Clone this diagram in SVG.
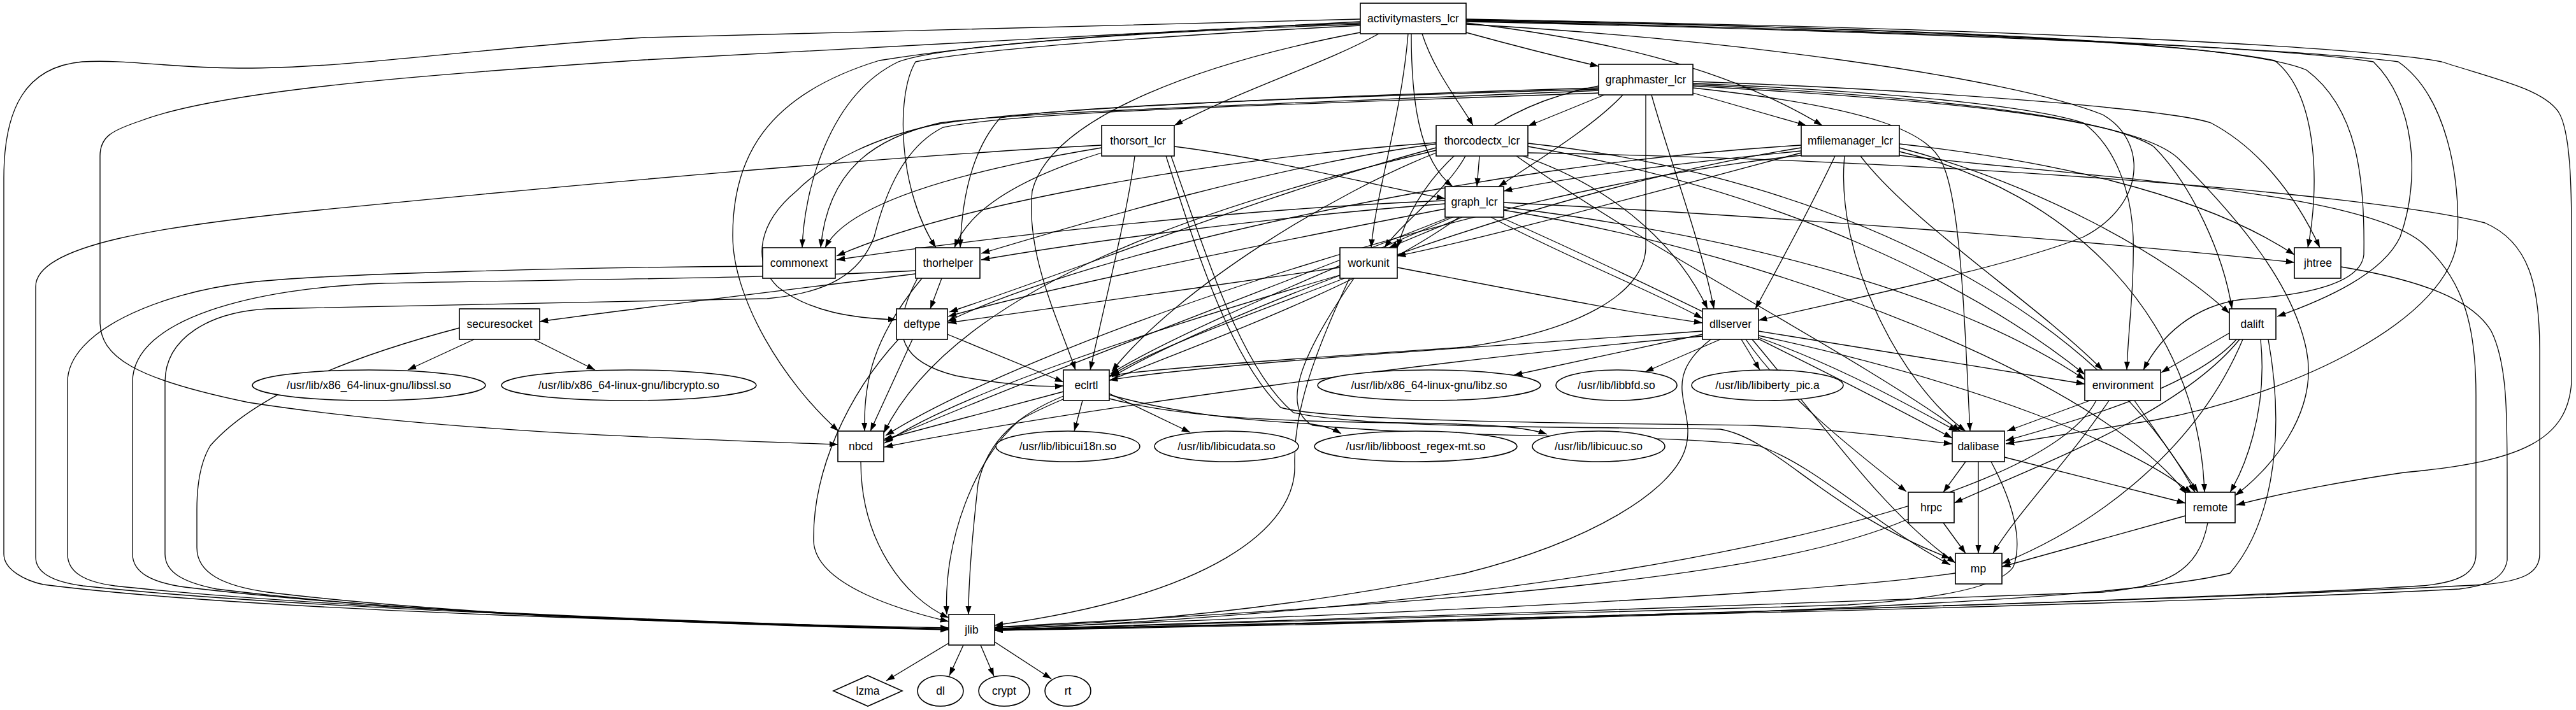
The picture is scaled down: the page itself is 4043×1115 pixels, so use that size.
<svg xmlns="http://www.w3.org/2000/svg" width="4043" height="1115" viewBox="0 0 4043 1115">
<style>
.n rect,.n ellipse,.n polygon{fill:#fff;stroke:#000;stroke-width:1.6}
text{font-family:"Liberation Sans",Arial,sans-serif;font-size:17.5px;text-anchor:middle;fill:#000}
.e path{fill:none;stroke:#000;stroke-width:1.3;marker-end:url(#a)}
</style>
<defs>
<marker id="a" markerUnits="userSpaceOnUse" markerWidth="14" markerHeight="10" refX="13.3" refY="4.65" orient="auto"><path d="M0,0 L13.3,4.65 L0,9.3 z" fill="#000"/></marker>
</defs>
<rect width="4043" height="1115" fill="#fff"/>
<g class="e" id="edges">
<path d="M2135,30 C1700,38 1300,50 1011,59 C750,75 550,108 374,107 C260,106 200,93 129,97 C40,105 6,170 6,280 L6,870 C6,895 40,912 68,918 C400,960 1100,978 1489,986"/>
<path d="M2135,34 C1800,50 1300,80 1011,94 C700,115 350,140 220,190 C175,205 157,215 157,245 L157,505 C157,560 210,595 390,632 C700,680 1100,690 1315,698"/>
<path d="M2135,36 C1900,45 1600,60 1380,95 C1200,150 1150,250 1150,370 C1150,470 1230,600 1316,677"/>
<path d="M2135,38 C1800,50 1480,70 1410,97 C1300,150 1262,300 1259,389"/>
<path d="M2135,40 C1850,55 1550,75 1437,97 C1405,150 1410,300 1469,389"/>
<path d="M2140,50 C1900,95 1650,180 1620,300 C1610,400 1660,500 1688,581"/>
<path d="M2164,53 C2080,100 1950,140 1843,197"/>
<path d="M2301,51 C2370,70 2440,88 2509,104"/>
<path d="M2232,53 C2250,110 2290,160 2312,197"/>
<path d="M2215,53 C2215,150 2225,250 2280,293"/>
<path d="M2210,53 C2200,180 2160,300 2152,389"/>
<path d="M2301,36 C2500,60 2700,100 2860,197"/>
<path d="M2301,38 C2700,60 3150,120 3300,180 C3370,220 3370,320 3270,372 C3150,420 2900,470 2760,503"/>
<path d="M2301,30 C2800,40 3400,60 3570,95 C3640,150 3640,300 3622,389"/>
<path d="M2301,32 C2900,42 3500,60 3620,110 C3700,170 3712,280 3710,400 C3705,450 3600,465 3520,470 C3440,480 3390,530 3364,581"/>
<path d="M2301,33 C2900,45 3550,70 3725,97 C3790,160 3800,280 3767,372 C3740,430 3650,470 3574,497"/>
<path d="M2301,34 C2950,48 3600,75 3764,97 C3840,150 3862,280 3857,372 C3850,500 3600,620 3380,660 C3250,680 3180,692 3148,697"/>
<path d="M2301,31 C3000,40 3700,70 3832,97 C3920,125 3990,140 4015,175 C4035,205 4036,300 4036,372 L4036,600 C4030,690 3960,725 3773,742 C3650,760 3560,780 3510,793"/>
<path d="M2518,149 L2398,198"/>
<path d="M2657,146 L2835,197"/>
<path d="M2547,149 C2500,200 2400,260 2352,293"/>
<path d="M2509,135 C2350,165 2230,260 2193,389"/>
<path d="M2583,149 L2583,390 C2580,460 2480,520 2300,545 C2000,565 1800,580 1741,590"/>
<path d="M2592,149 C2620,250 2670,380 2690,485"/>
<path d="M2509,138 C2100,150 1600,170 1462,197 C1380,215 1300,250 1250,300 C1190,350 1180,410 1220,450 C1270,490 1340,500 1407,502"/>
<path d="M2509,140 C2100,152 1700,165 1570,185 C1530,230 1510,300 1507,389"/>
<path d="M2509,142 C2100,160 1600,175 1475,193 C1380,215 1300,260 1288,389"/>
<path d="M2657,128 C3000,140 3400,170 3470,193 C3540,230 3600,300 3641,389"/>
<path d="M2657,131 C3000,145 3200,170 3270,193 C3320,230 3345,300 3348,372 C3350,450 3340,520 3338,581"/>
<path d="M2657,133 C3000,150 3300,180 3380,230 C3440,290 3490,400 3503,485"/>
<path d="M2657,135 C3000,155 3350,180 3420,250 C3520,350 3600,450 3620,550 C3640,650 3560,740 3508,778"/>
<path d="M2657,138 C2950,170 3030,210 3050,260 C3080,330 3085,550 3092,677"/>
<path d="M2509,146 C2000,165 1600,175 1480,200 C1420,230 1390,300 1372,372 C1350,430 1300,460 1204,469 C900,475 550,480 419,485 C330,490 259,530 259,600 L259,870 C259,900 290,915 340,925 C700,970 1200,982 1489,988"/>
<path d="M1729,228 C1400,245 900,290 500,330 C250,355 56,385 56,450 L56,875 C56,900 85,914 130,920 C450,955 1100,977 1489,988"/>
<path d="M1843,230 C2000,250 2150,290 2268,312"/>
<path d="M1729,232 C1500,270 1330,320 1295,389"/>
<path d="M1729,240 C1600,280 1520,330 1498,389"/>
<path d="M1781,245 C1770,330 1740,450 1711,581"/>
<path d="M1830,245 C1880,400 1930,560 2010,640 C2100,665 2600,665 2750,668 C2900,675 3000,690 3064,697"/>
<path d="M1838,245 C1900,420 1950,580 2030,648 C2150,675 2550,670 2700,674 C2790,690 2860,800 3061,877"/>
<path d="M2322,245 L2318,293"/>
<path d="M2300,245 C2270,300 2200,350 2173,389"/>
<path d="M2254,226 C2000,260 1700,350 1540,398"/>
<path d="M2254,232 C2000,300 1700,420 1490,490"/>
<path d="M2254,240 C2100,300 1850,450 1745,583"/>
<path d="M2254,224 C1900,250 1500,320 1313,402"/>
<path d="M2398,240 C3000,250 3700,300 3900,350 C3970,380 3986,450 3986,550 L3986,870 C3986,900 3960,912 3900,918 C3400,945 2400,972 1561,989"/>
<path d="M2390,245 C2550,300 2640,400 2680,485"/>
<path d="M2398,230 C2800,300 3100,450 3272,588"/>
<path d="M2380,245 C2600,400 2900,550 3077,677"/>
<path d="M2398,225 C2900,280 3300,500 3445,773"/>
<path d="M2254,236 C1900,320 1500,450 1387,680"/>
<path d="M2827,237 C2600,260 2450,280 2360,300"/>
<path d="M2827,240 C2600,300 2350,370 2193,402"/>
<path d="M2827,228 C2300,260 1700,400 1487,505"/>
<path d="M2827,232 C2400,300 1900,500 1745,592"/>
<path d="M2880,245 C2840,330 2790,420 2755,485"/>
<path d="M2895,245 C2880,400 2980,600 3085,677"/>
<path d="M2920,245 C3000,350 3200,480 3300,581"/>
<path d="M2981,226 C3200,250 3450,300 3601,400"/>
<path d="M2981,232 C3200,290 3400,400 3499,492"/>
<path d="M2981,238 C3250,300 3450,500 3460,773"/>
<path d="M2981,244 C3300,280 3700,300 3800,380 C3870,440 3886,520 3886,620 L3886,870 C3886,900 3860,915 3800,920 C3400,945 2400,972 1561,989"/>
<path d="M2827,244 C2300,300 1600,550 1390,684"/>
<path d="M2268,315 C1900,330 1500,380 1313,408"/>
<path d="M2268,320 C2000,340 1700,380 1540,408"/>
<path d="M2295,341 L2180,389"/>
<path d="M2268,328 C2000,380 1650,450 1488,497"/>
<path d="M2280,341 C2100,420 1850,520 1743,587"/>
<path d="M2275,341 C2000,450 1600,600 1388,692"/>
<path d="M2290,341 C2100,480 1700,600 1600,660 C1530,720 1480,850 1486,965"/>
<path d="M2340,341 C2450,400 2600,460 2672,500"/>
<path d="M2360,325 C2800,380 3100,480 3272,596"/>
<path d="M2355,341 C2600,450 2900,600 3064,688"/>
<path d="M2360,318 C2800,340 3300,380 3601,412"/>
<path d="M2360,330 C2800,400 3300,600 3432,776"/>
<path d="M2103,420 C1900,450 1600,490 1488,507"/>
<path d="M2110,437 C2000,480 1800,550 1741,592"/>
<path d="M2103,432 C1800,520 1500,620 1388,696"/>
<path d="M2118,437 C2060,560 2030,650 2032,730 C2035,830 1900,935 1561,982"/>
<path d="M2193,420 C2400,460 2550,490 2672,507"/>
<path d="M2125,437 C2040,560 2010,640 2060,668 C2300,690 2600,680 2760,700 C2850,730 2950,830 3061,887"/>
<path d="M1437,430 C1200,460 950,490 847,505"/>
<path d="M1478,437 L1460,485"/>
<path d="M1440,437 C1390,530 1420,570 1500,590 C1580,605 1640,608 1669,606"/>
<path d="M1447,437 C1370,530 1355,600 1357,677"/>
<path d="M1437,425 C1200,438 800,440 600,445 C400,452 208,500 208,600 L208,870 C208,900 240,915 290,922 C650,965 1150,980 1489,988"/>
<path d="M1197,418 C900,420 500,430 387,444 C250,460 106,520 106,600 L106,870 C106,900 135,914 180,920 C500,955 1100,977 1489,988"/>
<path d="M1487,525 L1669,600"/>
<path d="M1432,533 L1366,677"/>
<path d="M1410,533 C1330,620 1275,740 1277,850 C1280,920 1420,960 1489,976"/>
<path d="M744,533 L640,581"/>
<path d="M838,533 L934,581"/>
<path d="M721,515 C550,560 400,620 330,700 C312,730 309,770 309,800 L309,860 C309,900 350,920 420,930 C750,970 1200,983 1489,989"/>
<path d="M1669,615 L1387,690"/>
<path d="M1669,622 C1600,650 1550,690 1535,760 C1525,850 1520,920 1520,965"/>
<path d="M1699,629 L1686,677"/>
<path d="M1741,618 L1868,679"/>
<path d="M1741,620 C1850,650 1950,660 2050,665 C2080,668 2095,675 2105,681"/>
<path d="M1741,626 C1850,655 2000,662 2200,664 C2350,666 2400,672 2428,682"/>
<path d="M1351,725 C1351,850 1420,940 1489,970"/>
<path d="M2672,525 L2376,589"/>
<path d="M2700,533 L2582,584"/>
<path d="M2733,533 L2762,581"/>
<path d="M2672,520 C2400,540 1900,570 1741,597"/>
<path d="M2672,528 C2300,560 1700,640 1388,702"/>
<path d="M2760,520 C3000,560 3200,590 3272,603"/>
<path d="M2760,530 C2900,580 3000,640 3072,677"/>
<path d="M2760,527 C3100,600 3350,700 3440,775"/>
<path d="M2740,533 C2800,620 2900,700 2992,772"/>
<path d="M2750,533 C2850,650 2950,800 3069,884"/>
<path d="M2685,533 C2600,600 2665,640 2645,705 C2625,770 2500,850 2300,900 C2000,960 1750,980 1561,985"/>
<path d="M3280,629 L3150,677"/>
<path d="M3350,629 L3450,773"/>
<path d="M3310,629 C3250,720 3170,800 3128,869"/>
<path d="M3290,629 C3200,800 2500,950 1561,988"/>
<path d="M3499,523 L3392,585"/>
<path d="M3510,533 C3450,600 3300,650 3148,692"/>
<path d="M3548,533 C3560,650 3520,740 3500,773"/>
<path d="M3520,533 C3450,700 3300,820 3142,885"/>
<path d="M3515,533 C3420,650 3200,730 3067,790"/>
<path d="M3560,533 C3590,700 3560,830 3500,900 C3300,950 2500,975 1561,990"/>
<path d="M3674,419 C3800,440 3880,470 3910,520 C3935,570 3935,650 3935,750 L3935,880 C3930,910 3900,920 3860,925 C3500,945 2500,970 1561,990"/>
<path d="M3085,725 L3050,773"/>
<path d="M3146,718 L3430,790"/>
<path d="M3105,725 L3105,869"/>
<path d="M3125,725 C3160,790 3175,850 3160,890 C3140,920 3050,940 2900,950 C2400,965 1900,980 1561,989"/>
<path d="M3050,821 L3085,869"/>
<path d="M2995,815 C2800,900 2400,940 1561,985"/>
<path d="M3430,810 L3142,890"/>
<path d="M3465,821 C3450,900 3400,920 3300,930 C2800,950 2000,975 1561,989"/>
<path d="M3069,900 C2800,940 2000,970 1561,987"/>
<path d="M1489,1010 L1391,1069"/>
<path d="M1512,1013 L1490,1061"/>
<path d="M1539,1013 L1560,1062"/>
<path d="M1561,1008 L1650,1066"/>
</g>
<g class="n" id="activitymasters_lcr"><rect x="2135" y="5" width="166" height="48"/><text x="2218" y="35">activitymasters_lcr</text></g>
<g class="n" id="graphmaster_lcr"><rect x="2509" y="101" width="148" height="48"/><text x="2583" y="131">graphmaster_lcr</text></g>
<g class="n" id="thorsort_lcr"><rect x="1729" y="197" width="114" height="48"/><text x="1786" y="227">thorsort_lcr</text></g>
<g class="n" id="thorcodectx_lcr"><rect x="2254" y="197" width="144" height="48"/><text x="2326" y="227">thorcodectx_lcr</text></g>
<g class="n" id="mfilemanager_lcr"><rect x="2827" y="197" width="154" height="48"/><text x="2904" y="227">mfilemanager_lcr</text></g>
<g class="n" id="graph_lcr"><rect x="2268" y="293" width="92" height="48"/><text x="2314" y="323">graph_lcr</text></g>
<g class="n" id="commonext"><rect x="1197" y="389" width="114" height="48"/><text x="1254" y="419">commonext</text></g>
<g class="n" id="thorhelper"><rect x="1437" y="389" width="101" height="48"/><text x="1488" y="419">thorhelper</text></g>
<g class="n" id="workunit"><rect x="2103" y="389" width="90" height="48"/><text x="2148" y="419">workunit</text></g>
<g class="n" id="jhtree"><rect x="3601" y="389" width="73" height="48"/><text x="3638" y="419">jhtree</text></g>
<g class="n" id="securesocket"><rect x="721" y="485" width="126" height="48"/><text x="784" y="515">securesocket</text></g>
<g class="n" id="deftype"><rect x="1407" y="485" width="80" height="48"/><text x="1447" y="515">deftype</text></g>
<g class="n" id="dllserver"><rect x="2672" y="485" width="88" height="48"/><text x="2716" y="515">dllserver</text></g>
<g class="n" id="dalift"><rect x="3499" y="485" width="73" height="48"/><text x="3535" y="515">dalift</text></g>
<g class="n" id="libssl"><ellipse cx="579" cy="605" rx="183" ry="24"/><text x="579" y="611">/usr/lib/x86_64-linux-gnu/libssl.so</text></g>
<g class="n" id="libcrypto"><ellipse cx="987" cy="605" rx="200" ry="24"/><text x="987" y="611">/usr/lib/x86_64-linux-gnu/libcrypto.so</text></g>
<g class="n" id="eclrtl"><rect x="1669" y="581" width="72" height="48"/><text x="1705" y="611">eclrtl</text></g>
<g class="n" id="libz"><ellipse cx="2243" cy="605" rx="175" ry="24"/><text x="2243" y="611">/usr/lib/x86_64-linux-gnu/libz.so</text></g>
<g class="n" id="libbfd"><ellipse cx="2537" cy="605" rx="95" ry="24"/><text x="2537" y="611">/usr/lib/libbfd.so</text></g>
<g class="n" id="libiberty"><ellipse cx="2774" cy="605" rx="119" ry="24"/><text x="2774" y="611">/usr/lib/libiberty_pic.a</text></g>
<g class="n" id="environment"><rect x="3272" y="581" width="119" height="48"/><text x="3332" y="611">environment</text></g>
<g class="n" id="nbcd"><rect x="1315" y="677" width="72" height="48"/><text x="1351" y="707">nbcd</text></g>
<g class="n" id="libicui18n"><ellipse cx="1676" cy="701" rx="113" ry="24"/><text x="1676" y="707">/usr/lib/libicui18n.so</text></g>
<g class="n" id="libicudata"><ellipse cx="1925" cy="701" rx="113" ry="24"/><text x="1925" y="707">/usr/lib/libicudata.so</text></g>
<g class="n" id="libboost"><ellipse cx="2222" cy="701" rx="159" ry="24"/><text x="2222" y="707">/usr/lib/libboost_regex-mt.so</text></g>
<g class="n" id="libicuuc"><ellipse cx="2509" cy="701" rx="104" ry="24"/><text x="2509" y="707">/usr/lib/libicuuc.so</text></g>
<g class="n" id="dalibase"><rect x="3064" y="677" width="82" height="48"/><text x="3105" y="707">dalibase</text></g>
<g class="n" id="hrpc"><rect x="2995" y="773" width="72" height="48"/><text x="3031" y="803">hrpc</text></g>
<g class="n" id="remote"><rect x="3430" y="773" width="78" height="48"/><text x="3469" y="803">remote</text></g>
<g class="n" id="mp"><rect x="3069" y="869" width="73" height="48"/><text x="3105" y="899">mp</text></g>
<g class="n" id="jlib"><rect x="1489" y="965" width="72" height="48"/><text x="1525" y="995">jlib</text></g>
<g class="n" id="lzma"><polygon points="1362,1061 1416,1085 1362,1109 1308,1085"/><text x="1362" y="1091">lzma</text></g>
<g class="n" id="dl"><ellipse cx="1476" cy="1085" rx="36" ry="24"/><text x="1476" y="1091">dl</text></g>
<g class="n" id="crypt"><ellipse cx="1576" cy="1085" rx="40" ry="24"/><text x="1576" y="1091">crypt</text></g>
<g class="n" id="rt"><ellipse cx="1676" cy="1085" rx="36" ry="24"/><text x="1676" y="1091">rt</text></g>
</svg>
